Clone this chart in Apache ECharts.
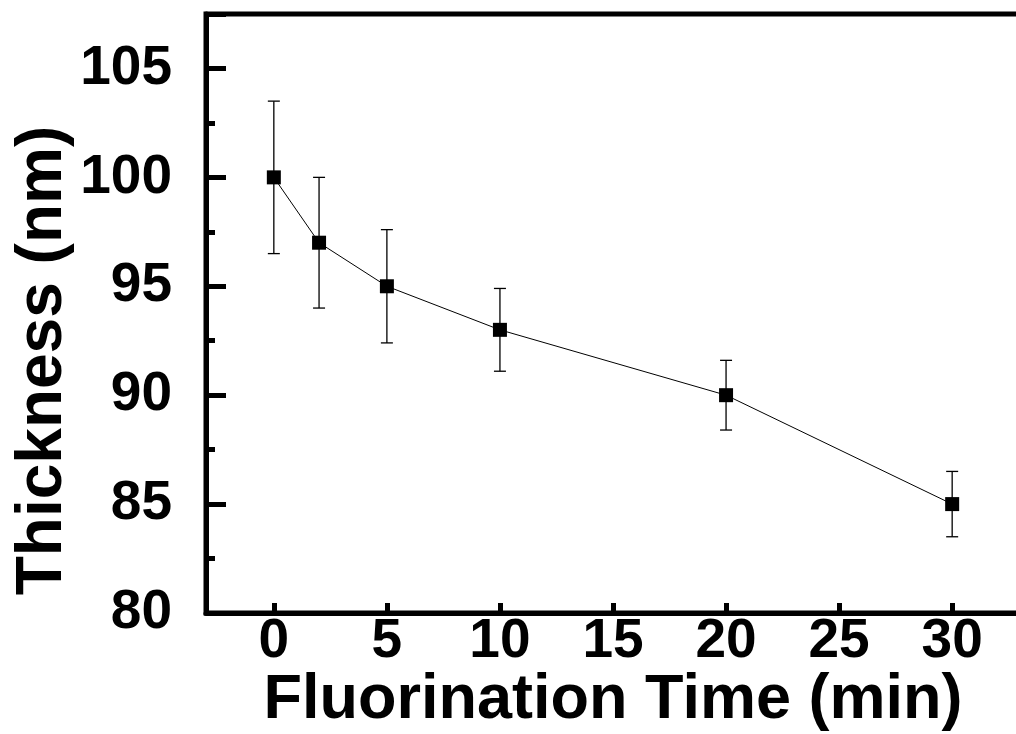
<!DOCTYPE html>
<html>
<head>
<meta charset="utf-8">
<script src="https://cdn.jsdelivr.net/npm/echarts@6/dist/echarts.min.js"></script>
<style>html,body{margin:0;padding:0;background:#fff;}#c{width:1016px;height:734px;}</style>
</head>
<body>
<div id="c"></div>
<script>
var times = [0, 2, 5, 10, 20, 30];
var thickness = [100, 97, 95, 93, 90, 85];
var errors = [3.5, 3.0, 2.6, 1.9, 1.6, 1.5];
var xTicks = [0, 5, 10, 15, 20, 25, 30];
var xTitle = 'Fluorination Time (min)';
var yTitle = 'Thickness (nm)';

var FONT = '"Liberation Sans", Arial, sans-serif';
var chart = echarts.init(document.getElementById('c'));
var pts = times.map(function (t, i) { return [t, thickness[i]]; });
var errData = times.map(function (t, i) { return [t, thickness[i] - errors[i], thickness[i] + errors[i]]; });

chart.setOption({
  animation: false,
  backgroundColor: '#fff',
  grid: { left: 206, top: 14, width: 814, height: 599, outerBoundsMode: 'none', containLabel: false,
    show: true, borderColor: '#000', borderWidth: 5, backgroundColor: 'transparent' },
  xAxis: {
    type: 'value', min: -3, max: 33,
    name: xTitle, nameLocation: 'middle', nameGap: 56, nameMoveOverlap: false,
    nameTextStyle: { fontFamily: FONT, fontWeight: 'bold', fontSize: 63, color: '#000' },
    axisLine: { show: true, onZero: false, lineStyle: { color: '#000', width: 5 } },
    axisTick: { show: true, inside: true, length: 10, customValues: xTicks, lineStyle: { color: '#000', width: 5 } },
    axisLabel: { show: true, customValues: xTicks, margin: 1, fontFamily: FONT, fontWeight: 'bold', fontSize: 55, color: '#000' },
    splitLine: { show: false }
  },
  yAxis: {
    type: 'value', min: 80, max: 107.5, interval: 5,
    name: yTitle, nameLocation: 'middle', nameGap: 131, nameMoveOverlap: false,
    nameTextStyle: { fontFamily: FONT, fontWeight: 'bold', fontSize: 64, color: '#000', padding: [0, 94, 0, 0] },
    axisLine: { show: true, onZero: false, lineStyle: { color: '#000', width: 5 } },
    axisTick: { show: true, inside: true, length: 20, lineStyle: { color: '#000', width: 5 } },
    minorTick: { show: true, splitNumber: 2, length: 9, lineStyle: { color: '#000', width: 5 } },
    axisLabel: { show: true, margin: 34, fontFamily: FONT, fontWeight: 'bold', fontSize: 55, color: '#000',
      showMaxLabel: false },
    splitLine: { show: false }
  },
  series: [
    {
      type: 'custom',
      data: errData,
      z: 1,
      renderItem: function (params, api) {
        var x = api.value(0);
        var lo = api.coord([x, api.value(1)]);
        var hi = api.coord([x, api.value(2)]);
        var hw = 6;
        var st = { stroke: '#000', lineWidth: 1.3 };
        return {
          type: 'group',
          children: [
            { type: 'line', shape: { x1: lo[0], y1: lo[1], x2: hi[0], y2: hi[1] }, style: st },
            { type: 'line', shape: { x1: lo[0] - hw, y1: lo[1], x2: lo[0] + hw, y2: lo[1] }, style: st },
            { type: 'line', shape: { x1: hi[0] - hw, y1: hi[1], x2: hi[0] + hw, y2: hi[1] }, style: st }
          ]
        };
      }
    },
    {
      type: 'line',
      data: pts,
      z: 2,
      symbol: 'rect',
      symbolSize: 14,
      itemStyle: { color: '#000' },
      lineStyle: { color: '#000', width: 1 }
    }
  ]
});
</script>
</body>
</html>
